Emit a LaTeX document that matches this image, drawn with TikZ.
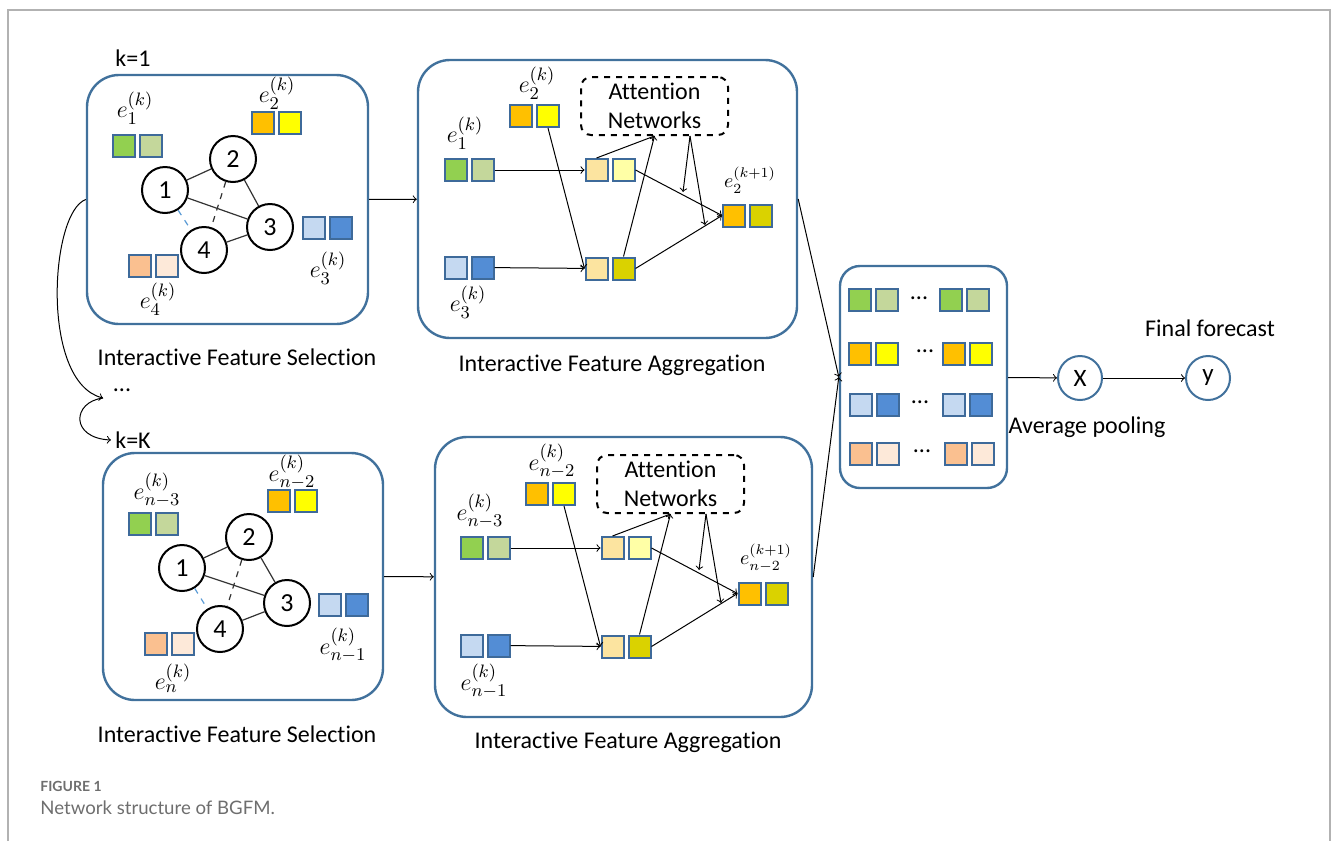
\documentclass[tikz,border=0pt]{standalone}
\usepackage{fontspec}
\setmainfont{Carlito}[Ligatures=NoCommon]
\newfontfamily\capfont{Lato}
\usetikzlibrary{positioning}

\definecolor{boxblue}{HTML}{41719C}
\definecolor{cellblue}{HTML}{3E6A9A}
\definecolor{linkblue}{HTML}{5B9BD5}
\definecolor{cgreen}{HTML}{92D050}
\definecolor{clgreen}{HTML}{C4D79B}
\definecolor{corange}{HTML}{FFC000}
\definecolor{cyellow}{HTML}{FFFF00}
\definecolor{clblue}{HTML}{C5D9F1}
\definecolor{cblue}{HTML}{538DD5}
\definecolor{csalmon}{HTML}{FAC090}
\definecolor{cpeach}{HTML}{FDE9D9}
\definecolor{ctan}{HTML}{FCE4A0}
\definecolor{cpale}{HTML}{FFFFA6}
\definecolor{colive}{HTML}{DAD200}
\definecolor{capgray}{HTML}{6E6E6E}

% two coloured cells side by side, centred at (x,y)
\newcommand{\cellpair}[5]{%
  \node[cell, fill=#4, anchor=east] (#1l) at ([xshift=-0.75pt]#2,#3) {};
  \node[cell, fill=#5, anchor=west] (#1r) at ([xshift=0.75pt]#2,#3) {};
}

\begin{document}
\begin{tikzpicture}[x=0.5pt,y=-0.5pt,
  panel/.style={draw=boxblue, line width=1.2pt, rounded corners=16pt, inner sep=0pt},
  cell/.style={draw=cellblue, line width=1pt, minimum size=11pt, inner sep=0pt},
  gnode/.style={circle, draw, line width=1pt, minimum size=23pt, inner sep=0pt, font=\fontsize{13}{15}\selectfont},
  outnode/.style={circle, draw=boxblue, line width=1pt, minimum size=22pt, inner sep=0pt, font=\fontsize{12.5}{14}\selectfont},
  attn/.style={draw, dashed, line width=1pt, rounded corners=5pt, minimum width=73.5pt, minimum height=29pt, inner sep=1pt, align=center, font=\fontsize{12}{14.5}\selectfont},
  lbl/.style={inner sep=2pt, font=\fontsize{12}{14}\selectfont},
  elbl/.style={inner sep=0pt, font=\fontsize{12.5}{14}\selectfont},
  edge/.style={draw=black!80, line width=0.6pt},
  arr/.style={->, line width=0.5pt},
  frame/.style={draw=black!30, line width=1pt}]
\useasboundingbox (0,0) rectangle (1331,841);
\draw[frame] (8,841) -- (8,10) -- (1330,10) -- (1330,841);

% k=1 : selection
\node[lbl] (k1) at (133,58) {k=1};
\node[panel, minimum width=140.5pt, minimum height=124.5pt] (sel1) at (227.5,199.5) {};
\node[gnode] (a1) at (165,190) {1};
\node[gnode] (a2) at (233,159) {2};
\node[gnode] (a3) at (270,227) {3};
\node[gnode] (a4) at (204,250) {4};
\draw[edge] (a1) -- (a2);
\draw[edge] (a1) -- (a3);
\draw[edge] (a2) -- (a3);
\draw[edge] (a4) -- (a3);
\draw[edge, dashed] (a2) -- (a4);
\draw[edge, dashed, draw=linkblue] (a1) -- (a4);
\cellpair{sa}{137.5}{145.5}{cgreen}{clgreen}
\cellpair{sb}{276.5}{122.5}{corange}{cyellow}
\cellpair{sc}{327.5}{228}{clblue}{cblue}
\cellpair{sd}{153}{265.5}{csalmon}{cpeach}
\node[elbl] (sat) at (135,108) {$e_1^{(k)}$};
\node[elbl] (sbt) at (277,93) {$e_2^{(k)}$};
\node[elbl] (sct) at (328,268) {$e_3^{(k)}$};
\node[elbl] (sdt) at (158,299) {$e_4^{(k)}$};
\node[lbl] (sel1t) at (237,357) {Interactive Feature Selection};

% k=1 : aggregation
\node[panel, minimum width=189.5pt, minimum height=139pt] (agg1) at (607.5,199) {};
\node[attn] (att1) at (654.5,106) {Attention\\Networks};
\cellpair{ga}{469}{170}{cgreen}{clgreen}
\cellpair{gb}{534.5}{116}{corange}{cyellow}
\cellpair{gc}{469}{267.5}{clblue}{cblue}
\cellpair{gm}{610}{170}{ctan}{cpale}
\cellpair{gn}{610}{268.5}{ctan}{colive}
\cellpair{go}{747.5}{215.5}{corange}{colive}
\node[elbl] (gbt) at (537,83) {$e_2^{(k)}$};
\node[elbl] (gat) at (465,133) {$e_1^{(k)}$};
\node[elbl] (gct) at (468,302) {$e_3^{(k)}$};
\node[elbl, font=\fontsize{10}{12}\selectfont] (got) at (750,180) {$e_2^{(k+1)}$};
\coordinate (gu) at (683,192);
\coordinate (gv) at (705,225);
\draw[arr] (gar) -- (gml);
\draw[arr] (gcr) -- (gnl);
\draw[arr] (gbr.south) -- (gnl.west);
\draw[arr] (gml.north) -- (att1.south);
\draw[arr] (gnr.north) -- (att1.south);
\draw[arr] ([xshift=17.75pt]att1.south) -- (gu);
\draw[arr] ([xshift=17.75pt]att1.south) -- (gv);
\draw[arr] (gmr.east) -- (gol.west);
\draw[arr] (gnr.east) -- (gol.west);
\node[lbl] (agg1t) at (612,365) {Interactive Feature Aggregation};
\draw[arr] (sel1) -- (agg1);

% from k=1 down to k=K
\node[lbl] (dots) at (122,390) {...};
\coordinate (brk) at (103,398);
\node[lbl] (kK) at (133,440) {k=K};
\draw[arr] (sel1.west) .. controls (50,212) and (40,382) .. (brk);
\draw[arr] (brk) .. controls (72,402) and (70,438) .. (kK.west);

% k=K : selection
\node[panel, minimum width=140pt, minimum height=123.5pt] (sel2) at (243,576.5) {};
\node[gnode] (b1) at (182,568) {1};
\node[gnode] (b2) at (249,537) {2};
\node[gnode] (b3) at (287,603) {3};
\node[gnode] (b4) at (220,629) {4};
\draw[edge] (b1) -- (b2);
\draw[edge] (b1) -- (b3);
\draw[edge] (b2) -- (b3);
\draw[edge] (b4) -- (b3);
\draw[edge, dashed] (b2) -- (b4);
\draw[edge, dashed, draw=linkblue] (b1) -- (b4);
\cellpair{ta}{153}{523.5}{cgreen}{clgreen}
\cellpair{tb}{292}{500.5}{corange}{cyellow}
\cellpair{tc}{343}{605}{clblue}{cblue}
\cellpair{td}{169}{643.5}{csalmon}{cpeach}
\node[elbl] (tat) at (157,490) {$e_{n-3}^{(k)}$};
\node[elbl] (tbt) at (292,472) {$e_{n-2}^{(k)}$};
\node[elbl] (tct) at (343,645) {$e_{n-1}^{(k)}$};
\node[elbl] (tdt) at (173,678) {$e_{n}^{(k)}$};
\node[lbl] (sel2t) at (237,734) {Interactive Feature Selection};

% k=K : aggregation
\node[panel, minimum width=188.5pt, minimum height=140pt] (agg2) at (623.5,577) {};
\node[attn] (att2) at (670.5,484) {Attention\\Networks};
\cellpair{ha}{485}{548}{cgreen}{clgreen}
\cellpair{hb}{550.5}{494}{corange}{cyellow}
\cellpair{hc}{485}{645.5}{clblue}{cblue}
\cellpair{hm}{626}{548}{ctan}{cpale}
\cellpair{hn}{626}{646.5}{ctan}{colive}
\cellpair{ho}{763}{593.5}{corange}{colive}
\node[elbl] (hbt) at (552,461) {$e_{n-2}^{(k)}$};
\node[elbl] (hat) at (480,511) {$e_{n-3}^{(k)}$};
\node[elbl] (hct) at (484,681) {$e_{n-1}^{(k)}$};
\node[elbl, font=\fontsize{10}{12}\selectfont] (hot) at (766,558) {$e_{n-2}^{(k+1)}$};
\coordinate (hu) at (699,570);
\coordinate (hv) at (721,603);
\draw[arr] (har) -- (hml);
\draw[arr] (hcr) -- (hnl);
\draw[arr] (hbr.south) -- (hnl.west);
\draw[arr] (hml.north) -- (att2.south);
\draw[arr] (hnr.north) -- (att2.south);
\draw[arr] ([xshift=17.75pt]att2.south) -- (hu);
\draw[arr] ([xshift=17.75pt]att2.south) -- (hv);
\draw[arr] (hmr.east) -- (hol.west);
\draw[arr] (hnr.east) -- (hol.west);
\node[lbl] (agg2t) at (628,742) {Interactive Feature Aggregation};
\draw[arr] (sel2) -- (agg2);

% pooling and forecast
\node[panel, rounded corners=10pt, minimum width=83.5pt, minimum height=111pt] (pool) at (923.5,377) {};
\cellpair{pa}{873.5}{300}{cgreen}{clgreen}
\cellpair{pb}{964.5}{300}{cgreen}{clgreen}
\cellpair{pc}{873.5}{354}{corange}{cyellow}
\cellpair{pd}{967.5}{354}{corange}{cyellow}
\cellpair{pe}{874}{405}{clblue}{cblue}
\cellpair{pf}{967.5}{405}{clblue}{cblue}
\cellpair{pg}{874}{453.5}{csalmon}{cpeach}
\cellpair{ph}{969.5}{453.5}{csalmon}{cpeach}
\node[lbl] (pdots1) at (919,298) {...};
\node[lbl] (pdots2) at (925,351) {...};
\node[lbl] (pdots3) at (920,402) {...};
\node[lbl] (pdots4) at (922,451) {...};
\draw[arr] (agg1.east) -- (pool.west);
\draw[arr] (agg2.east) -- (pool.west);
\node[outnode] (xn) at (1080,378) {X};
\node[outnode] (yn) at (1208,378) {y};
\draw[arr] (pool) -- (xn);
\draw[arr] (xn) -- (yn);
\node[lbl] (yt) at (1210,328) {Final forecast};
\node[lbl] (xt) at (1087,427) {Average pooling};

% caption
\node[anchor=west, inner sep=0pt, text=capgray, font=\capfont\bfseries\fontsize{7}{8}\selectfont] (fig) at (40,786) {FIGURE 1};
\node[anchor=west, inner sep=0pt, text=capgray, font=\capfont\fontsize{9.3}{11}\selectfont] (cap) at (40,808) {Network structure of BGFM.};
\end{tikzpicture}
\end{document}
